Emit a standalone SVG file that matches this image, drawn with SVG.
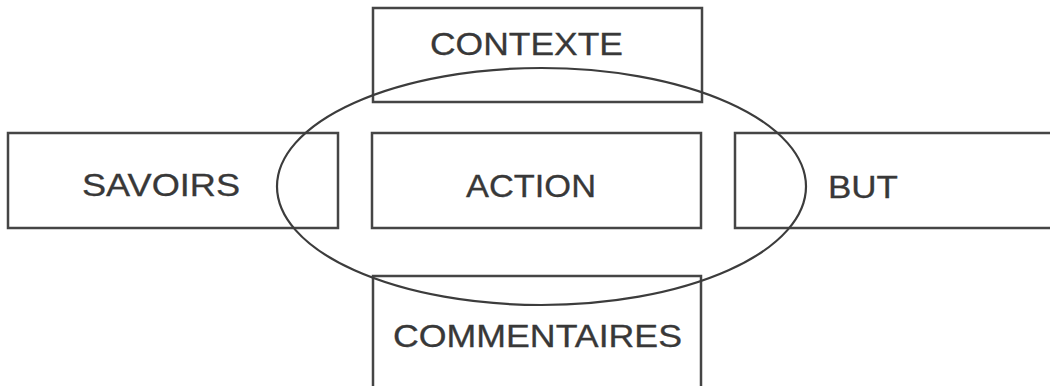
<svg xmlns="http://www.w3.org/2000/svg" width="1050" height="386" viewBox="0 0 1050 386">
  <style>
    .box { fill: none; stroke: #454545; stroke-width: 2.5; }
    .lbl { font-family: "Liberation Sans", Arial, sans-serif; font-size: 31px; fill: #383838; stroke: #383838; stroke-width: 0.3; }
    .ring { fill: none; stroke: #3c3c3c; stroke-width: 2.2; }
  </style>
  <rect width="1050" height="386" fill="#ffffff"/>

  <g id="contexte">
    <rect class="box" x="373" y="8" width="329" height="94"/>
    <text class="lbl" x="430" y="55" textLength="193" lengthAdjust="spacingAndGlyphs">CONTEXTE</text>
  </g>

  <g id="savoirs">
    <rect class="box" x="8" y="133" width="330" height="95"/>
    <text class="lbl" x="82" y="196" textLength="158" lengthAdjust="spacingAndGlyphs">SAVOIRS</text>
  </g>

  <g id="action">
    <rect class="box" x="372" y="133" width="329" height="95"/>
    <text class="lbl" x="466" y="197" textLength="130" lengthAdjust="spacingAndGlyphs">ACTION</text>
  </g>

  <g id="but">
    <rect class="box" x="735" y="133" width="320" height="95"/>
    <text class="lbl" x="828" y="198" textLength="70" lengthAdjust="spacingAndGlyphs">BUT</text>
  </g>

  <g id="commentaires">
    <rect class="box" x="373" y="276" width="328" height="120"/>
    <text class="lbl" x="393" y="347" textLength="289" lengthAdjust="spacingAndGlyphs">COMMENTAIRES</text>
  </g>

  <g id="connectors">
    <ellipse class="ring" cx="541.5" cy="186.5" rx="264.5" ry="118.5"/>
  </g>
</svg>
